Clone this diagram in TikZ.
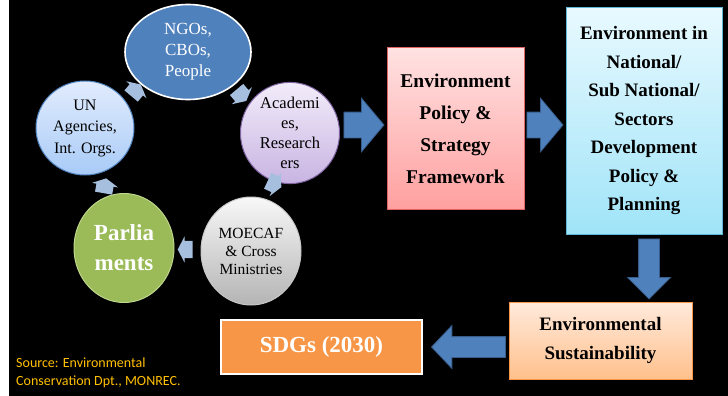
\documentclass[tikz,border=0pt]{standalone}
\usepackage{fontspec}
\setmainfont{Liberation Serif}
\newfontfamily\srcfont{Carlito}
\usetikzlibrary{shapes.geometric,shapes.arrows,calc}
\definecolor{arrowblue}{HTML}{4F81BD}
\definecolor{arrowedge}{HTML}{385D8A}
\definecolor{cycblue}{HTML}{A7BFDE}
\definecolor{srcgold}{HTML}{FFC000}
\begin{document}
\begin{tikzpicture}[x=1pt,y=-1pt,
  circ/.style={ellipse, inner sep=0pt, align=center, line width=1pt},
  boxstyle/.style={rectangle, inner sep=0pt, align=center, line width=1pt},
  bigarrow/.style={single arrow, draw=arrowedge, fill=arrowblue, line width=0.8pt, inner xsep=0pt, single arrow tip angle=100},
  cyc/.style={single arrow, fill=cycblue, inner xsep=0pt, inner ysep=8.5pt, minimum height=15pt, single arrow head extend=4.5pt, single arrow tip angle=125}
]
\fill[white] (0,0) rectangle (9,396);
\fill[black] (9,0) rectangle (728,396);
\useasboundingbox (0,0) rectangle (728,396);

% cycle nodes
\node[circ, fill=arrowblue, draw=white, line width=1.6pt, minimum width=126pt, minimum height=95pt, text=white,
  font=\fontsize{17}{21}\selectfont] (ngo) at (188,52) {NGOs,\\CBOs,\\People};
\node[circ, top color={rgb,255:red,226;green,236;blue,253}, bottom color={rgb,255:red,168;green,203;blue,247}, draw={rgb,255:red,79;green,129;blue,189},
  minimum width=98pt, minimum height=94pt, font=\fontsize{16}{21.5}\selectfont] (un) at (85,128) {UN\\Agencies,\\Int. Orgs.};
\node[circ, top color={rgb,255:red,242;green,236;blue,250}, bottom color={rgb,255:red,200;green,180;blue,226}, draw={rgb,255:red,128;green,100;blue,162},
  minimum width=99pt, minimum height=85pt, font=\fontsize{16.5}{20}\selectfont] (acad) at (290,133) {Academi\\es,\\Research\\ers};
\node[circ, fill={rgb,255:red,155;green,187;blue,89}, draw={rgb,255:red,190;green,215;blue,140},
  minimum width=100pt, minimum height=109pt, text=white, font=\bfseries\fontsize{23}{30}\selectfont] (parl) at (124,248) {Parlia\\ments};
\node[circ, top color={rgb,255:red,248;green,248;blue,248}, bottom color={rgb,255:red,180;green,180;blue,180}, draw={rgb,255:red,200;green,200;blue,200},
  minimum width=100pt, minimum height=108pt, font=\fontsize{15.5}{18}\selectfont] (moe) at (251,251) {MOECAF\\\& Cross\\Ministries};

% cycle arrows
\node[cyc, rotate=80] (c1) at ($(parl)!0.5!(un)$) {};
\node[cyc, rotate=50] (c2) at ($(un)!0.5!(ngo)+(-2,2)$) {};
\node[cyc, rotate=-50] (c3) at ($(ngo)!0.5!(acad)+(1,1)$) {};
\node[cyc, rotate=-25] (c4) at ($(acad)!0.5!(moe)+(2,-9)$) {};
\node[cyc, rotate=180] (c5) at ($(moe)!0.5!(parl)$) {};

% boxes
\node[boxstyle, top color={rgb,255:red,255;green,226;blue,226}, bottom color={rgb,255:red,255;green,160;blue,160}, draw={rgb,255:red,225;green,100;blue,100},
  minimum width=137pt, minimum height=161pt, font=\bfseries\fontsize{19.5}{32}\selectfont] (policy) at (455.5,128.5)
  {Environment\\Policy \&\\Strategy\\Framework};
\node[boxstyle, top color={rgb,255:red,232;green,249;blue,255}, bottom color={rgb,255:red,160;green,228;blue,248}, draw={rgb,255:red,96;green,184;blue,216},
  minimum width=156pt, minimum height=226pt, font=\bfseries\fontsize{19}{28.5}\selectfont] (plan) at (644,121)
  {Environment in\\National/\\Sub National/\\Sectors\\Development\\Policy \&\\Planning};
\node[boxstyle, top color={rgb,255:red,255;green,234;blue,220}, bottom color={rgb,255:red,255;green,192;blue,140}, draw={rgb,255:red,247;green,150;blue,70},
  minimum width=183pt, minimum height=77pt, font=\bfseries\fontsize{19}{29}\selectfont] (sust) at (600.5,340.5)
  {Environmental\\Sustainability};
\node[boxstyle, fill={rgb,255:red,247;green,150;blue,70}, draw=white, line width=2pt,
  minimum width=201pt, minimum height=54pt, text=white, font=\bfseries\fontsize{23}{28}\selectfont] (sdg) at (321.5,347)
  {SDGs (2030)};

% big arrows
\node[bigarrow, inner ysep=12.5pt, minimum height=40pt, single arrow head extend=14pt, anchor=tip] (a1) at ($(policy.west)+(-2,-3.5)$) {};
\node[bigarrow, inner ysep=12.5pt, minimum height=36pt, single arrow head extend=14pt, anchor=tip] (a2) at ($(plan.west |- a1.tip)+(-2,0)$) {};
\node[bigarrow, inner ysep=10pt, minimum height=60pt, single arrow head extend=11pt, single arrow tip angle=90, rotate=-90, anchor=tip] (a3) at ($(plan.south |- sust.north)+(5,-2)$) {};
\node[bigarrow, inner ysep=10pt, minimum height=74pt, single arrow head extend=11pt, single arrow tip angle=93, rotate=180, anchor=tip] (a4) at ($(sdg.east)+(8,0)$) {};

% source
\node[anchor=north west, inner sep=0pt, text=srcgold, align=left, font=\srcfont\fontsize{14}{18}\selectfont] (src) at (16,358)
  {Source: Environmental\\Conservation Dpt., MONREC.};
\end{tikzpicture}
\end{document}
